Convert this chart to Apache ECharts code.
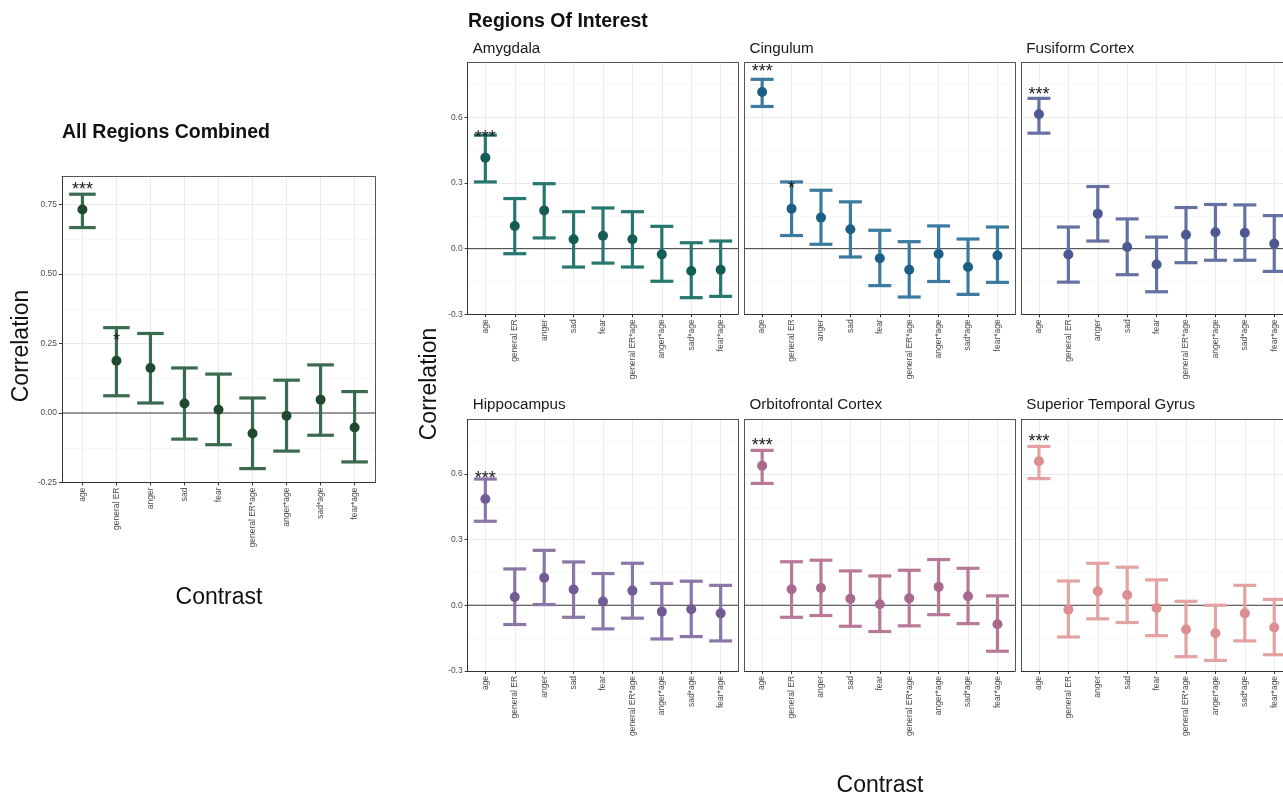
<!DOCTYPE html>
<html>
<head>
<meta charset="utf-8">
<script src="https://cdn.jsdelivr.net/npm/echarts@6/dist/echarts.min.js"></script>
<style>
html,body{margin:0;padding:0;background:#fff;}
#chart{width:1283px;height:798px;}
</style>
</head>
<body>
<div id="chart"></div>
<script>
// ---------- DATA ----------
const categories = ['age','general ER','anger','sad','fear','general ER*age','anger*age','sad*age','fear*age'];

const combinedEst = [0.732,0.188,0.162,0.034,0.012,-0.074,-0.010,0.048,-0.052];
const combinedLo  = [0.667,0.062,0.036,-0.094,-0.114,-0.200,-0.137,-0.080,-0.176];
const combinedHi  = [0.787,0.307,0.286,0.162,0.140,0.054,0.118,0.173,0.077];
const combinedStars = ['***','*','','','','','','',''];

const amygdalaEst = [0.416,0.104,0.175,0.043,0.059,0.043,-0.026,-0.102,-0.096];
const amygdalaLo  = [0.305,-0.023,0.049,-0.084,-0.066,-0.084,-0.149,-0.224,-0.218];
const amygdalaHi  = [0.519,0.229,0.297,0.169,0.186,0.169,0.102,0.027,0.035];
const amygdalaStars = ['***','','','','','','','',''];

const cingulumEst = [0.716,0.183,0.142,0.089,-0.044,-0.096,-0.024,-0.084,-0.031];
const cingulumLo  = [0.650,0.060,0.020,-0.038,-0.169,-0.221,-0.150,-0.209,-0.154];
const cingulumHi  = [0.774,0.305,0.267,0.214,0.084,0.032,0.104,0.044,0.099];
const cingulumStars = ['***','*','','','','','','',''];

const fusiformEst = [0.614,-0.027,0.160,0.008,-0.072,0.064,0.075,0.073,0.023];
const fusiformLo  = [0.528,-0.153,0.035,-0.119,-0.197,-0.064,-0.053,-0.053,-0.104];
const fusiformHi  = [0.687,0.099,0.284,0.136,0.053,0.188,0.202,0.200,0.151];
const fusiformStars = ['***','','','','','','','',''];

const hippocampusEst = [0.486,0.038,0.126,0.072,0.017,0.067,-0.029,-0.018,-0.037];
const hippocampusLo  = [0.384,-0.088,0.003,-0.055,-0.108,-0.059,-0.154,-0.143,-0.163];
const hippocampusHi  = [0.577,0.166,0.251,0.198,0.145,0.192,0.100,0.110,0.091];
const hippocampusStars = ['***','','','','','','','',''];

const ofcEst = [0.638,0.073,0.079,0.030,0.005,0.032,0.084,0.041,-0.087];
const ofcLo  = [0.557,-0.055,-0.047,-0.096,-0.120,-0.094,-0.043,-0.084,-0.210];
const ofcHi  = [0.708,0.199,0.206,0.157,0.134,0.160,0.209,0.169,0.043];
const ofcStars = ['***','','','','','','','',''];

const stgEst = [0.658,-0.020,0.064,0.047,-0.012,-0.111,-0.128,-0.037,-0.102];
const stgLo  = [0.579,-0.145,-0.062,-0.079,-0.139,-0.235,-0.252,-0.163,-0.226];
const stgHi  = [0.726,0.111,0.192,0.174,0.116,0.018,0.000,0.091,0.027];
const stgStars = ['***','','','','','','','',''];

const combinedTicks = [-0.25, 0.00, 0.25, 0.50, 0.75];
const roiTicks = [-0.3, 0.0, 0.3, 0.6];
const zeroLine = 0;

// ---------- LAYOUT / STYLE ----------
const FONT = '"Liberation Sans", Arial, Helvetica, sans-serif';
const panels = [
  {title:null, est:combinedEst, lo:combinedLo, hi:combinedHi, stars:combinedStars, yLabels:true,
   L:62, T:176.7, W:313, H:305.8, min:-0.25, max:0.85, interval:0.25, dec:2,
   bar:'#3b6b4f', pt:'#1f4a30'},
  {title:'Amygdala', est:amygdalaEst, lo:amygdalaLo, hi:amygdalaHi, stars:amygdalaStars, yLabels:true,
   L:467.7, T:62.7, W:270.6, H:251.6, min:-0.3, max:0.85, interval:0.3, dec:1,
   bar:'#26786f', pt:'#165c56'},
  {title:'Cingulum', est:cingulumEst, lo:cingulumLo, hi:cingulumHi, stars:cingulumStars, yLabels:false,
   L:744.5, T:62.7, W:270.6, H:251.6, min:-0.3, max:0.85, interval:0.3, dec:1,
   bar:'#3b7ba0', pt:'#1d5e86'},
  {title:'Fusiform Cortex', est:fusiformEst, lo:fusiformLo, hi:fusiformHi, stars:fusiformStars, yLabels:false,
   L:1021.3, T:62.7, W:270.6, H:251.6, min:-0.3, max:0.85, interval:0.3, dec:1,
   bar:'#6671a3', pt:'#4d5992'},
  {title:'Hippocampus', est:hippocampusEst, lo:hippocampusLo, hi:hippocampusHi, stars:hippocampusStars, yLabels:true,
   L:467.7, T:419.3, W:270.6, H:251.6, min:-0.3, max:0.85, interval:0.3, dec:1,
   bar:'#8b76a8', pt:'#715a95'},
  {title:'Orbitofrontal Cortex', est:ofcEst, lo:ofcLo, hi:ofcHi, stars:ofcStars, yLabels:false,
   L:744.5, T:419.3, W:270.6, H:251.6, min:-0.3, max:0.85, interval:0.3, dec:1,
   bar:'#b97a9a', pt:'#a8698c'},
  {title:'Superior Temporal Gyrus', est:stgEst, lo:stgLo, hi:stgHi, stars:stgStars, yLabels:false,
   L:1021.3, T:419.3, W:270.6, H:251.6, min:-0.3, max:0.85, interval:0.3, dec:1,
   bar:'#e4a2a2', pt:'#dd8e90'}
];

const grid = [], xAxis = [], yAxis = [], series = [], graphic = [];
const border = () => ({show:true, onZero:false, lineStyle:{color:'#555', width:1}});

panels.forEach((p, k) => {
  const u = p.W / 9.2;
  const go = grid.length;
  grid.push({left:p.L, top:p.T, width:p.W, height:p.H, show:false});
  const gi = grid.length;
  grid.push({left:p.L + 0.6*u, top:p.T, width:8*u, height:p.H, show:false});

  // outer axes (frame)
  const xo = xAxis.length;
  xAxis.push({type:'value', gridIndex:go, min:0, max:1, position:'bottom', z:5,
    axisLine:{show:true, onZero:false, lineStyle:{color:'#333', width:1}},
    axisTick:{show:false}, axisLabel:{show:false}, splitLine:{show:false}});
  xAxis.push({type:'value', gridIndex:go, min:0, max:1, position:'top', z:5,
    axisLine:border(), axisTick:{show:false}, axisLabel:{show:false}, splitLine:{show:false}});
  const yMinor = yAxis.length;
  yAxis.push({type:'value', gridIndex:go, position:'right', min:p.min, max:p.max, interval:p.interval/2, z:0,
    axisLine:border(), axisTick:{show:false}, axisLabel:{show:false},
    splitLine:{show:true, lineStyle:{color:'#f3f3f3', width:0.6}}});
  const yMajor = yAxis.length;
  const ticks = p.dec === 2 ? combinedTicks : roiTicks;
  yAxis.push({type:'value', gridIndex:go, position:'left', min:p.min, max:p.max, interval:p.interval, z:1,
    axisLine:{show:true, onZero:false, lineStyle:{color:p.yLabels ? '#333' : '#555', width:1}},
    axisTick:{show:p.yLabels, length:3, lineStyle:{color:'#333'}},
    axisLabel:{show:p.yLabels, fontSize:8.5, color:'#4d4d4d', margin:5, fontFamily:FONT,
      showMaxLabel:false,
      formatter:(v) => {
        const t = ticks.find(tt => Math.abs(tt - v) < 1e-6);
        return t === undefined ? '' : t.toFixed(p.dec);
      }},
    splitLine:{show:true, lineStyle:{color:'#ebebeb', width:1}}});

  // inner axes
  const xi = xAxis.length;
  xAxis.push({type:'value', gridIndex:gi, min:0, max:categories.length-1, interval:1, position:'bottom', z:1,
    axisLine:{show:false, onZero:false},
    axisTick:{show:true, length:3, lineStyle:{color:'#333'}},
    axisLabel:{show:true, rotate:90, fontSize:8.5, color:'#4d4d4d', margin:5, fontFamily:FONT,
      formatter:(v) => categories[Math.round(v)] || ''},
    splitLine:{show:true, lineStyle:{color:'#ebebeb', width:1}}});
  const yi = yAxis.length;
  yAxis.push({type:'value', gridIndex:gi, position:'left', min:p.min, max:p.max, show:false,
    axisLine:{onZero:false}, splitLine:{show:false}});

  // zero reference line on outer grid
  series.push({type:'line', xAxisIndex:xo, yAxisIndex:yMajor, data:[[0,zeroLine],[1,zeroLine]],
    symbol:'none', silent:true, z:2, lineStyle:{color:'#3a3a3a', width:1}, animation:false});

  // error bars
  const ebData = p.est.map((e, i) => [i, p.lo[i], p.hi[i]]);
  series.push({type:'custom', xAxisIndex:xi, yAxisIndex:yi, data:ebData, z:3, animation:false,
    encode:{x:0, y:[1,2]},
    renderItem:(params, api) => {
      const x = api.value(0), lo = api.value(1), hi = api.value(2);
      const a = api.coord([x, lo]), b = api.coord([x, hi]);
      const hw = api.size([1, 0])[0] * 0.78 / 2;
      const st = {stroke:p.bar, lineWidth:3.2, fill:null};
      return {type:'group', children:[
        {type:'line', shape:{x1:a[0], y1:a[1], x2:b[0], y2:b[1]}, style:st},
        {type:'line', shape:{x1:a[0]-hw, y1:a[1], x2:a[0]+hw, y2:a[1]}, style:st},
        {type:'line', shape:{x1:b[0]-hw, y1:b[1], x2:b[0]+hw, y2:b[1]}, style:st}
      ]};
    }});

  // points
  series.push({type:'scatter', xAxisIndex:xi, yAxisIndex:yi, z:4, animation:false,
    data:p.est.map((e, i) => [i, e]), symbol:'circle', symbolSize:10,
    itemStyle:{color:p.pt, opacity:1}});

  // significance stars
  const starData = [];
  p.stars.forEach((s, i) => { if (s) starData.push([i, p.est[i], s]); });
  series.push({type:'custom', xAxisIndex:xi, yAxisIndex:yi, z:5, animation:false,
    data:starData, encode:{x:0, y:1},
    renderItem:(params, api) => {
      const c = api.coord([api.value(0), api.value(1)]);
      return {type:'text', x:c[0], y:c[1] - 19.5,
        style:{text:starData[params.dataIndex][2], fontSize:18, fontFamily:FONT,
          fill:'#1a1a1a', align:'center', verticalAlign:'middle'}};
    }});

  if (p.title) {
    graphic.push({type:'text', left:p.L + 5, top:p.T - 21.5,
      style:{text:p.title, fontSize:15.2, fontFamily:FONT, fill:'#1a1a1a'}});
  }
});

// titles
graphic.push({type:'text', left:62, top:122.5,
  style:{text:'All Regions Combined', fontSize:19.5, fontWeight:'bold', fontFamily:FONT, fill:'#111'}});
graphic.push({type:'text', left:468, top:11.5,
  style:{text:'Regions Of Interest', fontSize:19.5, fontWeight:'bold', fontFamily:FONT, fill:'#111'}});
// axis titles
graphic.push({type:'text', x:22, y:346, rotation:Math.PI/2,
  style:{text:'Correlation', fontSize:23, fontFamily:FONT, fill:'#111', align:'center', verticalAlign:'middle'}});
graphic.push({type:'text', x:219, y:598,
  style:{text:'Contrast', fontSize:23, fontFamily:FONT, fill:'#111', align:'center', verticalAlign:'middle'}});
graphic.push({type:'text', x:430, y:384, rotation:Math.PI/2,
  style:{text:'Correlation', fontSize:23, fontFamily:FONT, fill:'#111', align:'center', verticalAlign:'middle'}});
graphic.push({type:'text', x:880, y:786,
  style:{text:'Contrast', fontSize:23, fontFamily:FONT, fill:'#111', align:'center', verticalAlign:'middle'}});

const chart = echarts.init(document.getElementById('chart'), null, {renderer:'canvas'});
chart.setOption({animation:false, backgroundColor:'#fff', grid, xAxis, yAxis, series, graphic});
</script>
</body>
</html>
